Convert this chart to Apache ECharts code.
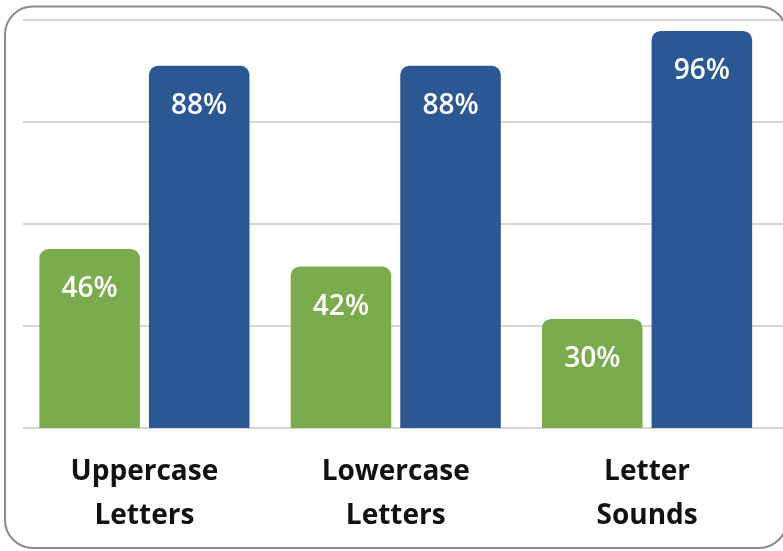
<!DOCTYPE html>
<html>
<head>
<meta charset="utf-8">
<script src="https://cdn.jsdelivr.net/npm/echarts@6/dist/echarts.min.js"></script>
<style>
html,body{margin:0;padding:0;background:#fff;}
#chart{width:783px;height:551px;}
</style>
</head>
<body>
<div id="chart"></div>
<script>
var categories = ['Uppercase\nLetters', 'Lowercase\nLetters', 'Letter\nSounds'];
var greenValues = [46, 42, 30];
var blueValues = [88, 88, 96];
var gridLevels = [0, 1, 2, 3, 4];

var chart = echarts.init(document.getElementById('chart'));
var labelStyle = {
  show: true,
  position: ['50%', 40],
  align: 'center',
  verticalAlign: 'middle',
  color: '#ffffff',
  fontFamily: 'Open Sans',
  fontWeight: 600,
  fontSize: 28,
  formatter: function (p) { return p.value + '%'; }
};
chart.setOption({
  animation: false,
  backgroundColor: '#ffffff',
  graphic: [{
    type: 'rect',
    shape: { x: 5, y: 6.5, width: 782, height: 541.5, r: 28 },
    style: { fill: 'none', stroke: '#8a8a8a', lineWidth: 2 },
    z: 100
  }],
  grid: [
    { left: 23, right: 0, top: 20, bottom: 123 },
    { left: 18.75, right: 10.25, top: 20, bottom: 123 }
  ],
  xAxis: [
    { type: 'value', gridIndex: 0, show: false, min: 0, max: 1 },
    {
      type: 'category', gridIndex: 1, data: categories,
      axisLine: { show: false }, axisTick: { show: false },
      axisLabel: {
        margin: 22,
        color: '#111111',
        fontFamily: 'Open Sans',
        fontWeight: 'bold',
        fontSize: 28,
        lineHeight: 44
      }
    }
  ],
  yAxis: [
    {
      type: 'value', gridIndex: 0, min: gridLevels[0], max: gridLevels[gridLevels.length - 1], interval: 1,
      axisLine: { show: false }, axisTick: { show: false }, axisLabel: { show: false },
      splitLine: { show: true, lineStyle: { color: '#d6d6d6', width: 2 } }
    },
    {
      type: 'value', gridIndex: 1, min: 5, max: 98.5,
      axisLine: { show: false }, axisTick: { show: false }, axisLabel: { show: false },
      splitLine: { show: false }
    }
  ],
  series: [
    {
      type: 'bar', xAxisIndex: 1, yAxisIndex: 1, data: greenValues,
      barWidth: '40%', barGap: '9%',
      itemStyle: { color: '#7aab4c', borderRadius: [9, 9, 0, 0] },
      label: labelStyle
    },
    {
      type: 'bar', xAxisIndex: 1, yAxisIndex: 1, data: blueValues,
      barWidth: '40%', barGap: '9%',
      itemStyle: { color: '#2b5892', borderRadius: [9, 9, 0, 0] },
      label: labelStyle
    }
  ]
});
</script>
</body>
</html>
